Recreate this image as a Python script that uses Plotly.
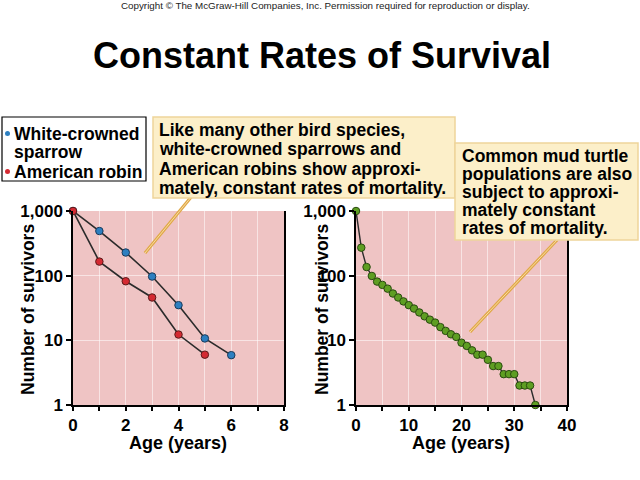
import plotly.graph_objects as go

# ---- data ----
bird_age = [0, 1, 2, 3, 4, 5, 6]
sparrow = [1000, 490, 228, 97, 35, 10.7, 5.9]
robin_age = [0, 1, 2, 3, 4, 5]
robin = [1000, 165, 82, 46, 12.3, 6]

turtle_age = list(range(0, 35))
turtle = [1000, 271, 136, 99, 81, 72, 63, 53, 46, 40, 35, 31, 27, 23.5, 20.9, 18.8,
          16, 14, 12.4, 11.3, 9.2, 8.2, 7, 6, 6, 5, 4, 4, 3, 3, 3, 2, 2, 2, 1]

left_xticks = [0, 1, 2, 3, 4, 5, 6, 7, 8]
left_xlabels = ["0", "", "2", "", "4", "", "6", "", "8"]
right_xticks = [0, 5, 10, 15, 20, 25, 30, 35, 40]
right_xlabels = ["0", "", "10", "", "20", "", "30", "", "40"]
y_ticks = [1, 10, 100, 1000]
y_labels = ["1", "10", "100", "1,000"]

W, H = 640, 480
FONT = "Liberation Sans, Arial, sans-serif"
def px(x): return x / W
def py(y): return 1 - y / H
def bold(lst): return ["<b>%s</b>" % s if s else "" for s in lst]

fig = go.Figure()
line_col = "#2b2b2b"
fig.add_trace(go.Scatter(x=bird_age, y=sparrow, mode="lines+markers",
    line=dict(color=line_col, width=1.6),
    marker=dict(size=7.5, color="#2d7fc0", line=dict(color="#1a3a5a", width=1)),
    cliponaxis=False, xaxis="x", yaxis="y", showlegend=False))
fig.add_trace(go.Scatter(x=robin_age, y=robin, mode="lines+markers",
    line=dict(color=line_col, width=1.6),
    marker=dict(size=7.5, color="#d42a32", line=dict(color="#5a1a1a", width=1)),
    cliponaxis=False, xaxis="x", yaxis="y", showlegend=False))
fig.add_trace(go.Scatter(x=turtle_age, y=turtle, mode="lines+markers",
    line=dict(color=line_col, width=1.4),
    marker=dict(size=7.5, color="#5e9e22", line=dict(color="#2a4a10", width=1)),
    cliponaxis=False, xaxis="x2", yaxis="y2", showlegend=False))

bg = "#efc4c4"
grid = "rgba(255,255,255,0.55)"
ydom = [py(405), py(211)]
tickfont = dict(family=FONT, size=17, color="black")
yax = dict(type="log", range=[0, 3], domain=ydom, tickvals=y_ticks, ticktext=bold(y_labels),
           showline=True, linecolor="black", linewidth=1.5, mirror=True,
           ticks="outside", ticklen=5, tickcolor="black", tickwidth=1.5, automargin=False,
           showgrid=True, gridcolor=grid, gridwidth=1, zeroline=False, tickfont=tickfont)
xax = dict(showline=True, linecolor="black", linewidth=1.5, automargin=False,
           ticks="outside", ticklen=4, tickcolor="black", tickwidth=1.5,
           showgrid=True, gridcolor=grid, gridwidth=1, zeroline=False, tickfont=tickfont)

fig.update_layout(
    width=W, height=H, margin=dict(l=0, r=0, t=0, b=0, pad=0), autosize=False,
    paper_bgcolor="white", plot_bgcolor=bg, showlegend=False,
    xaxis=dict(xax, domain=[px(73), px(284)], range=[0, 8], tickvals=left_xticks,
               ticktext=bold(left_xlabels), anchor="y"),
    yaxis=dict(yax, anchor="x"),
    xaxis2=dict(xax, domain=[px(356), px(567)], range=[0, 40], tickvals=right_xticks,
                ticktext=bold(right_xlabels), anchor="y2"),
    yaxis2=dict(yax, anchor="x2"),
)

ann = []
def text(x, y, s, size, anchor="left", isbold=True, angle=0, color="black"):
    ann.append(dict(x=px(x), y=py(y), xref="paper", yref="paper", text=("<b>%s</b>" % s) if isbold else s,
                    showarrow=False, xanchor=anchor, yanchor="middle", textangle=angle,
                    font=dict(family=FONT, size=size, color=color)))

text(325, 6, "Copyright © The McGraw-Hill Companies, Inc. Permission required for reproduction or display.",
     9.8, anchor="center", isbold=False, color="#222")
text(322, 55, "Constant Rates of Survival", 36, anchor="center")

# axis titles
text(28, 310, "Number of survivors", 17.5, anchor="center", angle=-90)
text(322, 310, "Number of survivors", 17.5, anchor="center", angle=-90)
text(178, 443, "Age (years)", 18, anchor="center")
text(461, 443, "Age (years)", 18, anchor="center")

shapes = []
# pointer lines
for (x0, y0, x1, y1) in [(192, 196, 145, 253), (557, 240, 470, 332)]:
    shapes.append(dict(type="line", xref="paper", yref="paper", x0=px(x0), y0=py(y0), x1=px(x1), y1=py(y1),
                       line=dict(color="#e0a848", width=3.2), layer="above"))
    shapes.append(dict(type="line", xref="paper", yref="paper", x0=px(x0), y0=py(y0), x1=px(x1), y1=py(y1),
                       line=dict(color="#f8dca0", width=1), layer="above"))

# legend box
shapes.append(dict(type="rect", xref="paper", yref="paper", x0=px(2), y0=py(117), x1=px(146), y1=py(181),
                   fillcolor="white", line=dict(color="black", width=1.2), layer="above"))
shapes.append(dict(type="circle", xref="paper", yref="paper", x0=px(5), y0=py(131), x1=px(10), y1=py(136),
                   fillcolor="#2d7fc0", line=dict(color="#2d7fc0", width=0), layer="above"))
shapes.append(dict(type="circle", xref="paper", yref="paper", x0=px(5), y0=py(169), x1=px(10), y1=py(174),
                   fillcolor="#d42a32", line=dict(color="#d42a32", width=0), layer="above"))
text(12, 134, "White-crowned", 17.5)
text(12, 152, "sparrow", 17.5)
text(12, 172, "American robin", 17.5)

# annotation boxes
box_fill = "#fcefc9"
box_line = "#eed59a"
shapes.append(dict(type="rect", xref="paper", yref="paper", x0=px(153), y0=py(117), x1=px(455), y1=py(198),
                   fillcolor=box_fill, line=dict(color=box_line, width=1.5), layer="above"))
shapes.append(dict(type="rect", xref="paper", yref="paper", x0=px(455), y0=py(143), x1=px(638), y1=py(240),
                   fillcolor=box_fill, line=dict(color=box_line, width=1.5), layer="above"))

lines1 = ["Like many other bird species,", "white-crowned sparrows and",
          "American robins show approxi-", "mately, constant rates of mortality."]
for i, s in enumerate(lines1):
    text(157, 130 + i * 19.3, s, 17.5)
lines2 = ["Common mud turtle", "populations are also", "subject to approxi-",
          "mately constant", "rates of mortality."]
for i, s in enumerate(lines2):
    text(460, 156 + i * 18, s, 17.5)

fig.update_layout(annotations=ann, shapes=shapes)
fig.write_html("out.html", config={"displayModeBar": False},
               post_script="document.body.style.margin='0';document.body.style.padding='0';")
